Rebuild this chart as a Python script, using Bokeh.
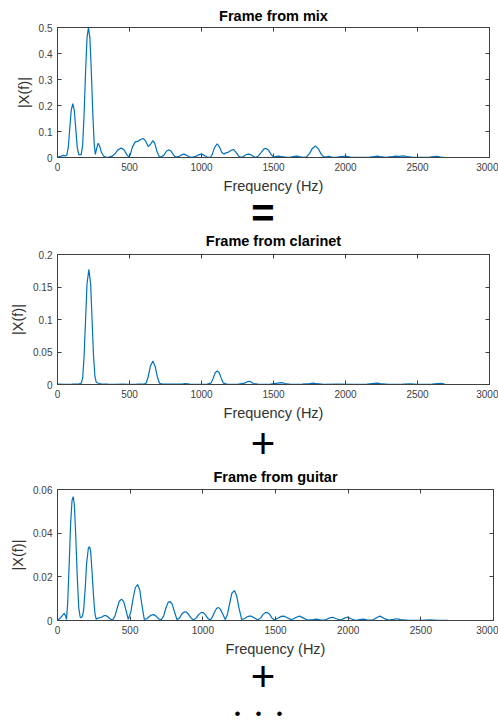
from bokeh.plotting import figure
from bokeh.models import Range1d, FixedTicker, LinearAxis, Div
from bokeh.layouts import column
from bokeh.embed import file_html
from bokeh.resources import INLINE

# ---------------- data ----------------
mix_freq = [0, 20, 40, 55, 65, 75, 85, 95, 106, 117, 127, 137, 147, 157, 165, 175, 185, 195, 205, 215,
            225, 235, 245, 255, 263, 272, 282, 292, 305, 320, 340, 355, 380, 400, 420, 442, 462, 480, 495,
            505, 520, 540, 560, 580, 595, 610, 630, 645, 662, 675, 690, 705, 720, 740, 758, 773, 788, 805,
            820, 840, 858, 877, 895, 915, 935, 960, 980, 1000, 1020, 1040, 1062, 1075, 1090, 1109, 1125,
            1140, 1155, 1170, 1185, 1200, 1222, 1240, 1258, 1271, 1290, 1310, 1329, 1348, 1365, 1378, 1395,
            1415, 1432, 1449, 1466, 1485, 1502, 1520, 1538, 1560, 1590, 1620, 1645, 1664, 1685, 1710, 1730,
            1750, 1770, 1792, 1812, 1832, 1850, 1870, 1885, 1905, 1935, 1965, 1990, 2010, 2035, 2070, 2120,
            2160, 2195, 2220, 2245, 2280, 2320, 2347, 2375, 2405, 2430, 2470, 2520, 2580, 2610, 2637, 2660,
            2685]
mix_mag = [0.002, 0.004, 0.008, 0.006, 0.01, 0.04, 0.11, 0.18, 0.207, 0.18, 0.11, 0.04, 0.012, 0.01, 0.012,
           0.05, 0.17, 0.33, 0.46, 0.5, 0.46, 0.33, 0.17, 0.05, 0.012, 0.035, 0.055, 0.045, 0.02, 0.006,
           0.001, 0.002, 0.005, 0.015, 0.03, 0.036, 0.03, 0.012, 0.002, 0.01, 0.04, 0.06, 0.063, 0.07, 0.073,
           0.065, 0.042, 0.05, 0.065, 0.055, 0.025, 0.005, 0.002, 0.01, 0.025, 0.03, 0.025, 0.01, 0.002,
           0.003, 0.009, 0.013, 0.009, 0.003, 0.001, 0.004, 0.01, 0.013, 0.008, 0.002, 0.001, 0.012, 0.038,
           0.053, 0.04, 0.02, 0.013, 0.018, 0.02, 0.026, 0.031, 0.02, 0.006, 0.001, 0.004, 0.011, 0.013,
           0.009, 0.003, 0.001, 0.006, 0.02, 0.032, 0.035, 0.028, 0.01, 0.002, 0.004, 0.005, 0.003, 0.001,
           0.002, 0.004, 0.005, 0.003, 0.001, 0.003, 0.015, 0.035, 0.044, 0.033, 0.012, 0.002, 0.003, 0.004,
           0.002, 0.001, 0.003, 0.004, 0.004, 0.002, 0.001, 0.001, 0.001, 0.003, 0.005, 0.003, 0.001, 0.003,
           0.005, 0.004, 0.006, 0.003, 0.001, 0.0005, 0.001, 0.003, 0.004, 0.002, 0.001]

clar_freq = [0, 50, 100, 150, 165, 175, 185, 195, 205, 218, 230, 240, 250, 260, 270, 285, 300, 350, 400,
             450, 500, 550, 600, 615, 630, 645, 662, 678, 693, 708, 730, 800, 860, 889, 920, 980, 1040,
             1065, 1080, 1095, 1109, 1123, 1138, 1152, 1175, 1250, 1300, 1315, 1330, 1345, 1360, 1400,
             1480, 1530, 1556, 1580, 1620, 1700, 1750, 1776, 1800, 1850, 1950, 2050, 2150, 2200, 2220,
             2240, 2300, 2400, 2450, 2500, 2600, 2640, 2665, 2690]
clar_mag = [0.0005, 0.0004, 0.0006, 0.001, 0.002, 0.01, 0.045, 0.1, 0.155, 0.177, 0.155, 0.1, 0.045,
            0.012, 0.003, 0.002, 0.001, 0.0005, 0.0003, 0.0006, 0.0004, 0.0005, 0.0008, 0.002, 0.012,
            0.028, 0.036, 0.028, 0.012, 0.002, 0.0005, 0.0005, 0.0008, 0.0012, 0.0006, 0.0004, 0.0006,
            0.002, 0.009, 0.018, 0.021, 0.018, 0.009, 0.002, 0.0005, 0.0004, 0.002, 0.004, 0.005, 0.004,
            0.0015, 0.0004, 0.0005, 0.002, 0.003, 0.0015, 0.0004, 0.0005, 0.0015, 0.0022, 0.0012, 0.0004,
            0.0005, 0.0004, 0.0006, 0.0018, 0.0022, 0.0015, 0.0004, 0.0005, 0.001, 0.0004, 0.0005, 0.0012,
            0.0016, 0.0008]

guit_freq = [0, 15, 30, 46, 56, 62, 70, 80, 90, 100, 108, 116, 126, 136, 146, 156, 163, 172, 180, 190,
             200, 212, 220, 228, 238, 248, 258, 266, 275, 287, 305, 320, 333, 348, 365, 379, 395, 410,
             425, 441, 456, 470, 487, 505, 520, 535, 551, 566, 581, 597, 615, 630, 645, 661, 678, 695,
             712, 730, 745, 760, 774, 789, 805, 822, 840, 855, 870, 884, 900, 918, 935, 955, 972, 988,
             1003, 1018, 1034, 1050, 1065, 1080, 1094, 1107, 1120, 1137, 1155, 1170, 1185, 1200, 1217,
             1232, 1248, 1267, 1285, 1305, 1320, 1332, 1350, 1378, 1398, 1415, 1430, 1442, 1458, 1475,
             1492, 1515, 1540, 1557, 1575, 1610, 1640, 1665, 1690, 1720, 1760, 1780, 1810, 1840, 1870,
             1894, 1918, 1950, 1975, 1997, 2020, 2050, 2080, 2103, 2130, 2170, 2200, 2220, 2245, 2280,
             2310, 2335, 2360, 2420, 2500, 2560, 2620, 2686]
guit_mag = [0.0002, 0.0008, 0.002, 0.0033, 0.002, 0.0005, 0.008, 0.025, 0.044, 0.055, 0.0567, 0.053,
            0.038, 0.02, 0.006, 0.0015, 0.0013, 0.002, 0.005, 0.014, 0.026, 0.033, 0.0338, 0.032, 0.022,
            0.011, 0.003, 0.0006, 0.001, 0.0012, 0.0016, 0.0022, 0.0023, 0.0016, 0.0006, 0.0002, 0.002,
            0.0055, 0.0088, 0.0098, 0.0085, 0.005, 0.0005, 0.004, 0.01, 0.015, 0.0165, 0.014, 0.007,
            0.0005, 0.0008, 0.0017, 0.0025, 0.0027, 0.002, 0.0008, 0.0002, 0.002, 0.0055, 0.0082, 0.0087,
            0.0075, 0.004, 0.0004, 0.0012, 0.003, 0.0038, 0.004, 0.003, 0.0012, 0.0002, 0.0012, 0.0028,
            0.0036, 0.0036, 0.0026, 0.001, 0.0002, 0.0015, 0.0038, 0.0055, 0.006, 0.0052, 0.003, 0.0004,
            0.003, 0.008, 0.0125, 0.0137, 0.0115, 0.006, 0.0005, 0.0008, 0.0017, 0.002, 0.002, 0.0014,
            0.0002, 0.0012, 0.0028, 0.0036, 0.0037, 0.003, 0.0012, 0.0002, 0.001, 0.0019, 0.002, 0.0015,
            0.0003, 0.0014, 0.002, 0.0012, 0.0002, 0.0004, 0.0006, 0.0003, 0.0002, 0.0011, 0.0015, 0.0008,
            0.0002, 0.0011, 0.0016, 0.0008, 0.0001, 0.0004, 0.0006, 0.0003, 0.0002, 0.0015, 0.002, 0.001,
            0.0002, 0.0005, 0.0008, 0.0004, 0.0001, 0.0001, 0.0003, 0.0001, 0.0001]

titles = ["Frame from mix", "Frame from clarinet", "Frame from guitar"]
x_ticks = [0, 500, 1000, 1500, 2000, 2500, 3000]
x_tick_labels = ["0", "500", "1000", "1500", "2000", "2500", "3000"]
y_ticks_mix = [0, 0.1, 0.2, 0.3, 0.4, 0.5]
y_labels_mix = ["0", "0.1", "0.2", "0.3", "0.4", "0.5"]
y_ticks_clar = [0, 0.05, 0.1, 0.15, 0.2]
y_labels_clar = ["0", "0.05", "0.1", "0.15", "0.2"]
y_ticks_guit = [0, 0.02, 0.04, 0.06]
y_labels_guit = ["0", "0.02", "0.04", "0.06"]
x_label = "Frequency (Hz)"
y_label = "|X(f)|"

FONT = "Liberation Sans"
LINE = "#0072BD"
AX = "#404040"


def style_axis(ax):
    ax.major_tick_in = 4
    ax.major_tick_out = 0
    ax.minor_tick_line_color = None
    ax.axis_line_color = AX
    ax.major_tick_line_color = AX


def labelled(ax, ticks, labels, text):
    ax.major_label_overrides = {t: l for t, l in zip(ticks, labels)}
    ax.major_label_text_font = FONT
    ax.major_label_text_font_size = "10px"
    ax.major_label_text_color = AX
    ax.major_label_standoff = 5
    ax.axis_label = text
    ax.axis_label_text_font = FONT
    ax.axis_label_text_font_size = "14.5px"
    ax.axis_label_text_font_style = "normal"
    ax.axis_label_text_color = "#333333"
    ax.axis_label_standoff = 4


def unlabelled(ax, ticks):
    ax.major_label_overrides = {t: "" for t in ticks}
    ax.major_label_text_font_size = "1px"
    ax.major_label_standoff = 0


def make_panel(title, fx, mag, yticks, ylabels, ymax, left, top, fh, bottom, standoff):
    p = figure(output_backend="svg", toolbar_location=None, frame_width=498 - left - 9,
               frame_height=fh, min_border_left=left, min_border_right=9, min_border_top=top,
               min_border_bottom=bottom, x_range=Range1d(0, 3000), y_range=Range1d(0, ymax),
               x_axis_location=None, y_axis_location=None)
    p.title.text = title
    p.title.align = "center"
    p.title.text_font = FONT
    p.title.text_font_size = "14.5px"
    p.title.text_font_style = "bold"
    p.title.text_color = "#000000"
    p.title.standoff = standoff
    p.title.offset = 0
    p.xgrid.visible = False
    p.ygrid.visible = False
    p.outline_line_color = AX
    p.outline_line_width = 1
    p.background_fill_color = "white"
    p.border_fill_color = "white"

    xt = FixedTicker(ticks=x_ticks)
    yt = FixedTicker(ticks=yticks)

    bx = LinearAxis(ticker=xt)
    style_axis(bx)
    labelled(bx, x_ticks, x_tick_labels, x_label)
    p.add_layout(bx, "below")

    tx = LinearAxis(ticker=xt)
    style_axis(tx)
    unlabelled(tx, x_ticks)
    p.add_layout(tx, "above")

    ly = LinearAxis(ticker=yt)
    style_axis(ly)
    labelled(ly, yticks, ylabels, y_label)
    p.add_layout(ly, "left")

    ry = LinearAxis(ticker=yt)
    style_axis(ry)
    unlabelled(ry, yticks)
    p.add_layout(ry, "right")

    p.line(fx, mag, line_color=LINE, line_width=1.2)
    return p


def symbol(txt, h, size, weight="normal", left=233, w=60, lh=None, extra=""):
    lh = lh or h
    return Div(text=f'<div style="font-family:\'{FONT}\';font-size:{size}px;font-weight:{weight};'
                    f'line-height:{lh}px;height:{h}px;text-align:center;width:{w}px;color:#000;{extra}">{txt}</div>',
               width=w, height=h, margin=(0, 0, 0, left))


# panel heights: 195, 202, 203 ; spacers: 28, 33, 30, 31  -> total 722
p1 = make_panel(titles[0], mix_freq, mix_mag, y_ticks_mix, y_labels_mix, 0.5, 57, 27, 130, 38, 8)
p2 = make_panel(titles[1], clar_freq, clar_mag, y_ticks_clar, y_labels_clar, 0.2, 57, 30, 130, 42, 11)
p3 = make_panel(titles[2], guit_freq, guit_mag, y_ticks_guit, y_labels_guit, 0.06, 53, 30, 131, 42, 9)

d1 = symbol("=", 28, 40, "bold", lh=34)
d2 = symbol("+", 33, 42, lh=36)
d3 = symbol("+", 30, 42)
dot = '<span style="display:inline-block;width:21px;text-align:center">&bull;</span>'
d4 = symbol(dot * 3, 31, 17, "normal", left=227, w=63, lh=44)

layout = column(p1, d1, p2, d2, p3, d3, d4, spacing=0)

with open("out.html", "w") as f:
    f.write(file_html(layout, INLINE))
